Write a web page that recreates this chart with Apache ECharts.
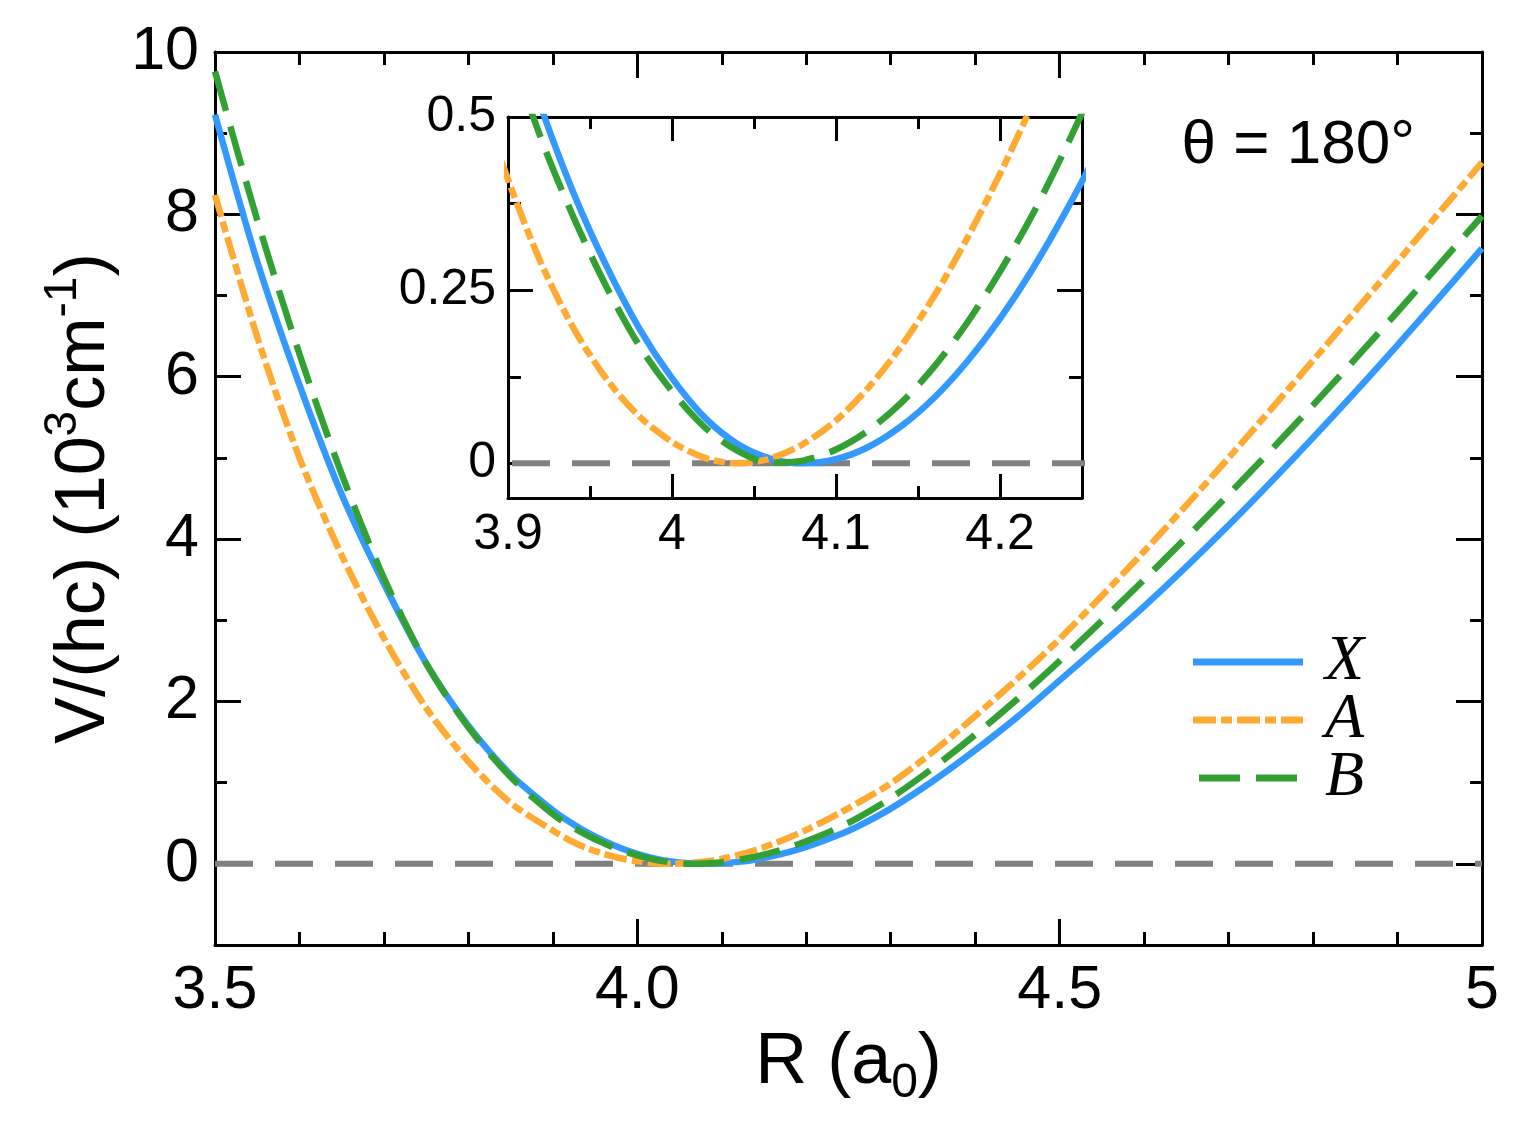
<!DOCTYPE html>
<html>
<head>
<meta charset="utf-8">
<script src="https://cdn.jsdelivr.net/npm/echarts@6.0.0/dist/echarts.min.js"></script>
<style>
html, body { margin: 0; padding: 0; background: #fff; }
#main { width: 1534px; height: 1123px; }
</style>
</head>
<body>
<div id="main"></div>
<script>
// R in a0, potentials V/(hc) in 10^3 cm^-1
var R = [3.50, 3.55, 3.60, 3.65, 3.70, 3.75, 3.80, 3.85, 3.90, 3.92, 3.94, 3.96, 3.98,
         4.00, 4.02, 4.04, 4.06, 4.08, 4.10, 4.12, 4.14, 4.16, 4.18, 4.20, 4.22, 4.24,
         4.26, 4.30, 4.35, 4.40, 4.45, 4.50, 4.60, 4.70, 4.80, 4.90, 5.00];
var potX = [9.23, 7.42, 5.90, 4.55, 3.45, 2.47, 1.70, 1.10, 0.66, 0.515, 0.39, 0.285, 0.195,
            0.123, 0.066, 0.028, 0.007, 0.0, 0.006, 0.024, 0.054, 0.095, 0.147, 0.209, 0.281, 0.363,
            0.455, 0.68, 1.02, 1.40, 1.81, 2.26, 3.17, 4.17, 5.25, 6.39, 7.58];
var potA = [8.24, 6.49, 5.00, 3.80, 2.78, 1.92, 1.26, 0.75, 0.41, 0.29, 0.195, 0.122, 0.068,
            0.031, 0.008, 0.0, 0.007, 0.028, 0.062, 0.11, 0.17, 0.242, 0.325, 0.418, 0.52, 0.63,
            0.745, 0.99, 1.38, 1.82, 2.28, 2.77, 3.85, 5.00, 6.20, 7.42, 8.64];
var potB = [9.76, 7.93, 6.28, 4.80, 3.52, 2.47, 1.68, 1.07, 0.61, 0.47, 0.355, 0.255, 0.17,
            0.104, 0.052, 0.018, 0.001, 0.004, 0.02, 0.048, 0.088, 0.14, 0.203, 0.277, 0.36, 0.455,
            0.56, 0.81, 1.18, 1.59, 2.03, 2.50, 3.50, 4.55, 5.65, 6.80, 7.98];
var zeroLine = [[3.5, 0], [5.0, 0]];

// tick positions
var mainXMajor = [3.5, 4.0, 4.5, 5.0];
var mainXMinor = [3.6, 3.7, 3.8, 3.9, 4.1, 4.2, 4.3, 4.4, 4.6, 4.7, 4.8, 4.9];
var mainYMajor = [0, 2, 4, 6, 8, 10];
var mainYMinor = [1, 3, 5, 7, 9];
var insetXMajor = [3.9, 4.0, 4.1, 4.2];
var insetXMinor = [3.95, 4.05, 4.15];
var insetYMajor = [0, 0.25, 0.5];
var insetYMinor = [0.125, 0.375];

var legendNames = ['X', 'A', 'B'];

var FONT = 'Liberation Sans';
var cBlue = '#3399ff', cOrange = '#ffaa33', cGreen = '#33a033', cGray = '#808080';
var dashA = [23, 5, 11, 5], dashB = [41, 16];

function axisPair(grid, pos, min, max, majors, minors, lenMaj, lenMin, label, extra) {
    var major = {
        type: 'value', gridIndex: grid, position: pos, min: min, max: max,
        axisLine: { show: true, onZero: false, lineStyle: { color: '#000', width: 3 } },
        axisTick: { show: true, inside: true, length: lenMaj, customValues: majors,
                    lineStyle: { color: '#000', width: 3 } },
        axisLabel: label ? Object.assign({ show: true, customValues: majors }, label) : { show: false },
        splitLine: { show: false }
    };
    if (extra) Object.assign(major, extra);
    var minor = {
        type: 'value', gridIndex: grid, position: pos, min: min, max: max,
        axisLine: { show: false, onZero: false },
        axisTick: { show: true, inside: true, length: lenMin, customValues: minors,
                    lineStyle: { color: '#000', width: 3 } },
        axisLabel: { show: false },
        splitLine: { show: false }
    };
    return [major, minor];
}

var mainLabel = { fontFamily: FONT, fontSize: 61, color: '#000', margin: 16 };
var insetLabel = { fontFamily: FONT, fontSize: 50, color: '#000', margin: 12 };

var xAxes = [].concat(
    axisPair(0, 'bottom', 3.5, 5.0, mainXMajor, mainXMinor, 26, 13,
        Object.assign({ formatter: function (v) { return v === 5 ? '5' : v.toFixed(1); } }, mainLabel),
        { name: '{a|R (a}{b|0}{a|)}', nameLocation: 'middle', nameGap: 62,
          nameTextStyle: { rich: {
              a: { fontFamily: FONT, fontSize: 72, color: '#000', lineHeight: 90 },
              b: { fontFamily: FONT, fontSize: 48, color: '#000', lineHeight: 40, verticalAlign: 'bottom' } } } }),
    axisPair(0, 'top', 3.5, 5.0, mainXMajor, mainXMinor, 26, 13, null),
    axisPair(1, 'bottom', 3.9, 4.25, insetXMajor, insetXMinor, 24, 12,
        Object.assign({ formatter: function (v) { return String(v); } }, insetLabel)),
    axisPair(1, 'top', 3.9, 4.25, insetXMajor, insetXMinor, 24, 12, null)
);

var yAxes = [].concat(
    axisPair(0, 'left', -1, 10, mainYMajor, mainYMinor, 26, 12, mainLabel,
        { name: '{a|V/(hc) (10}{s|3}{a|cm}{s|-1}{a|)}', nameLocation: 'middle', nameGap: 85,
          nameTextStyle: { rich: {
              a: { fontFamily: FONT, fontSize: 70, color: '#000', lineHeight: 90 },
              s: { fontFamily: FONT, fontSize: 46, color: '#000', lineHeight: 40, verticalAlign: 'top' } } } }),
    axisPair(0, 'right', -1, 10, mainYMajor, mainYMinor, 26, 12, null),
    axisPair(1, 'left', -0.05, 0.5, insetYMajor, insetYMinor, 25, 13,
        Object.assign({ formatter: function (v) { return String(v); } }, insetLabel)),
    axisPair(1, 'right', -0.05, 0.5, insetYMajor, insetYMinor, 25, 13, null)
);

function pairs(ys) {
    return R.map(function (r, i) { return [r, ys[i]]; });
}

function curve(name, ys, color, type, xi, yi) {
    return {
        name: name, type: 'line', xAxisIndex: xi, yAxisIndex: yi,
        data: pairs(ys), showSymbol: false, symbol: 'none',
        smooth: 0.3, clip: true, silent: true, z: 3,
        lineStyle: { color: color, width: 6.5, type: type }
    };
}

function zero(xi, yi) {
    return {
        name: 'zero', type: 'line', xAxisIndex: xi, yAxisIndex: yi, data: zeroLine,
        showSymbol: false, symbol: 'none', silent: true, clip: true, z: 2,
        lineStyle: { color: cGray, width: 6, type: [38, 22] }
    };
}

// legend drawn by hand: swatch + italic label per curve
var swatches = [[cBlue, 'solid'], [cOrange, dashA], [cGreen, dashB]];
var legendGraphics = [];
legendNames.forEach(function (n, i) {
    var y = 662 + i * 58;
    legendGraphics.push({
        type: 'line', silent: true,
        shape: { x1: i === 2 ? 1199 : 1193, y1: y, x2: 1303, y2: y },
        style: { stroke: swatches[i][0], lineWidth: 7,
                 lineDash: swatches[i][1] === 'solid' ? null : swatches[i][1] }
    });
    legendGraphics.push({
        type: 'text', silent: true, x: 1325, y: y,
        style: { text: n, font: 'italic 64px "Liberation Serif"', fill: '#000',
                 textVerticalAlign: 'middle', verticalAlign: 'middle' }
    });
});

var chart = echarts.init(document.getElementById('main'), null, { renderer: 'canvas' });
chart.setOption({
    animation: false,
    backgroundColor: '#fff',
    grid: [
        { left: 215, top: 52, width: 1267, height: 893 },
        { left: 508, top: 117, width: 574, height: 381 }
    ],
    xAxis: xAxes,
    yAxis: yAxes,
    graphic: [{
        type: 'text', right: 119, top: 115,
        style: { text: 'θ = 180°', font: '62px "Liberation Sans"', fill: '#000' }
    }].concat(legendGraphics),
    series: [
        zero(0, 0),
        curve('X', potX, cBlue, 'solid', 0, 0),
        curve('A', potA, cOrange, dashA, 0, 0),
        curve('B', potB, cGreen, dashB, 0, 0),
        zero(4, 4),
        curve('X', potX, cBlue, 'solid', 4, 4),
        curve('A', potA, cOrange, dashA, 4, 4),
        curve('B', potB, cGreen, dashB, 4, 4)
    ]
});
</script>
</body>
</html>
